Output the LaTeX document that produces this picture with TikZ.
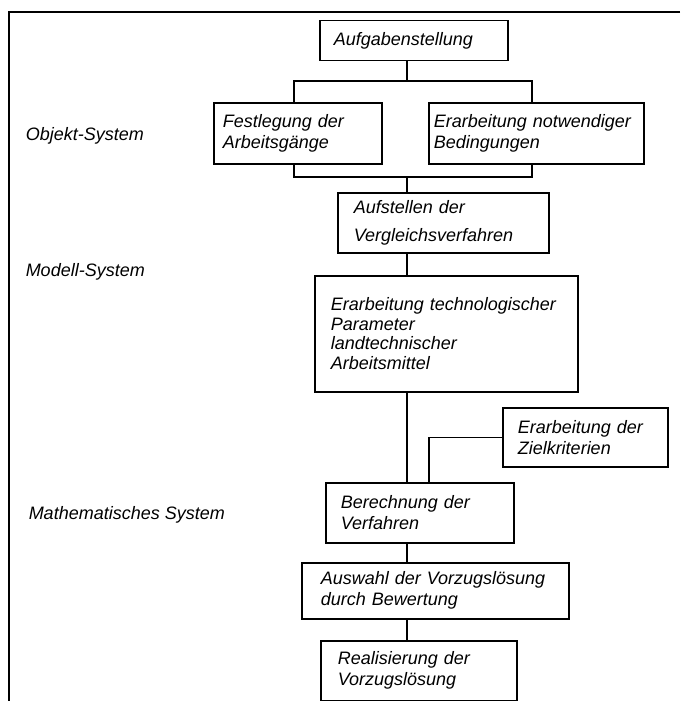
\documentclass[tikz,border=0pt]{standalone}
\usepackage{fontspec}
\setmainfont{Liberation Sans}
\usetikzlibrary{positioning}
\tikzset{
		>=stealth,
		schrift/.style={font=\itshape\fontsize{18}{21}\selectfont},
		kasten/.style={draw, rectangle, anchor=north west, align=left, inner ysep=0pt, schrift},
		ebene/.style={anchor=west, inner sep=0pt, schrift}
	}

\begin{document}
\begin{tikzpicture}[x=1pt, y=-1pt, line width=1.5pt] % (1 unit = 1 pixel of the scan, y downwards)
		\useasboundingbox (0,0) rectangle (680,701);
		\draw (680,12) -- (9,12) -- (9,701); % the frame
		% the boxes
		\node[kasten, text width=160pt, inner xsep=14pt, minimum height=40pt] (aufgabe) at (319,20) {Aufgabenstellung};
		\node[kasten, text width=150pt, inner xsep=9pt, minimum height=61pt] (festlegung) at (213,102) {Festlegung der\\Arbeitsgänge};
		\node[kasten, text width=205pt, inner xsep=5pt, minimum height=61pt] (bedingungen) at (428,102) {Erarbeitung notwendiger\\Bedingungen};
		\node[kasten, text width=179pt, inner xsep=16pt, minimum height=60pt] (aufstellen) at (337,192) {Aufstellen der\\[7pt]Vergleichsverfahren};
		\node[kasten, text width=231pt, inner xsep=16pt, minimum height=116pt, font=\itshape\fontsize{18}{19.5}\selectfont] (parameter) at (314,275) {Erarbeitung technologischer\\Parameter\\landtechnischer\\Arbeitsmittel};
		\node[kasten, text width=135pt, inner xsep=15pt, minimum height=59pt] (ziel) at (502,407) {Erarbeitung der\\Zielkriterien};
		\node[kasten, text width=158pt, inner xsep=15pt, minimum height=60pt] (berechnung) at (325,482) {Berechnung der\\Verfahren};
		\node[kasten, text width=229pt, inner xsep=19pt, minimum height=56pt] (auswahl) at (301,562) {Auswahl der Vorzugslösung\\durch Bewertung};
		\node[kasten, text width=162pt, inner xsep=17pt, minimum height=60pt] (realisierung) at (320,640) {Realisierung der\\Vorzugslösung};
		% the levels
		\node[ebene] (objekt) at (25,136) {Objekt-System};
		\node[ebene] (modell) at (25,272) {Modell-System};
		\node[ebene] (mathe) at (28,515) {Mathematisches System};
		% the connectors
		\coordinate (achse) at (407,0);
		\coordinate (gl) at (294,81); \coordinate (gr) at (532,81);
		\coordinate (ul) at (294,177); \coordinate (ur) at (532,177);
		\coordinate (zx) at (429,0);
		\draw (aufgabe.south -| achse) -- (achse |- gl);
		\draw (gl |- festlegung.north) -- (gl) -- (gr) -- (gr |- bedingungen.north);
		\draw (ul |- festlegung.south) -- (ul) -- (ur) -- (ur |- bedingungen.south);
		\draw (achse |- ul) -- (aufstellen.north -| achse);
		\draw (aufstellen.south -| achse) -- (parameter.north -| achse);
		\draw (parameter.south -| achse) -- (berechnung.north -| achse);
		\draw (ziel.west) -| (berechnung.north -| zx);
		\draw (berechnung.south -| achse) -- (auswahl.north -| achse);
		\draw (auswahl.south -| achse) -- (realisierung.north -| achse);
	\end{tikzpicture}
\end{document}
